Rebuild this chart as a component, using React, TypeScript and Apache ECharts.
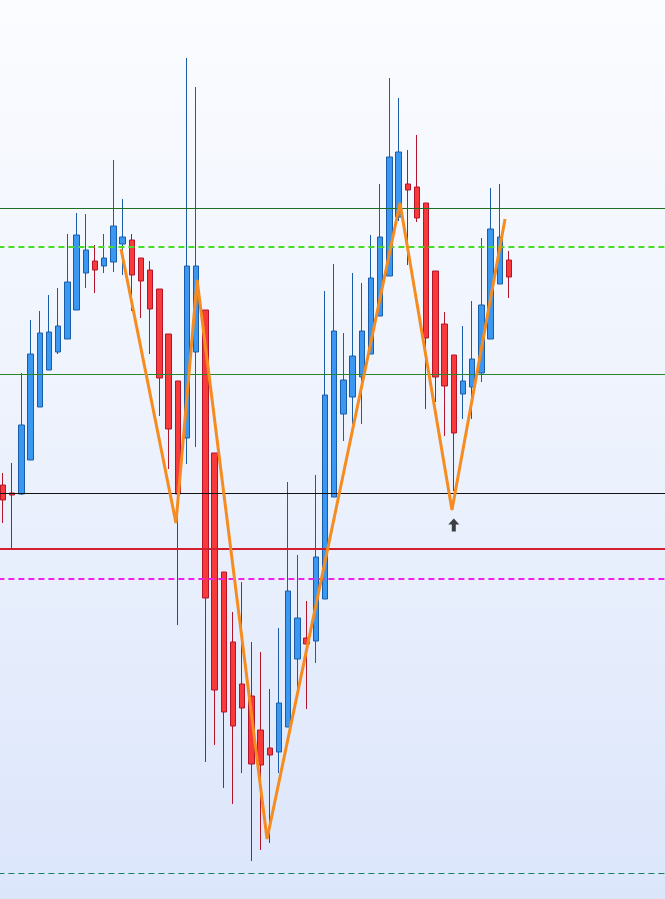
import React, { useEffect, useRef } from "react";
import * as echarts from "echarts";

// Candle values (price units), one entry per session
const opens = [
  1.09575, 1.09535, 1.0953, 1.097, 1.09965, 1.1015, 1.1024, 1.10305, 1.1045, 1.10635,
  1.10695, 1.1067, 1.1069, 1.1078, 1.108, 1.1071, 1.1065, 1.10555, 1.1033, 1.10095,
  1.0981, 1.1024, 1.1045, 1.09735, 1.0914, 1.0879, 1.0858, 1.0852, 1.0835, 1.0826,
  1.0824, 1.08365, 1.08705, 1.0881, 1.08795, 1.09005, 1.09515, 1.0993, 1.10015, 1.10115,
  1.1023, 1.1042, 1.1062, 1.10915, 1.1108, 1.11065, 1.10985, 1.10645, 1.1038, 1.10225,
  1.1003, 1.10065, 1.10135, 1.10305, 1.1058, 1.107,
];
const closes = [
  1.095, 1.09525, 1.09875, 1.1023, 1.10335, 1.1034, 1.1037, 1.1059, 1.10825, 1.1075,
  1.1065, 1.1071, 1.1087, 1.10815, 1.10625, 1.10595, 1.10455, 1.1011, 1.09855, 1.0953,
  1.1067, 1.1067, 1.0901, 1.0855, 1.0844, 1.0837, 1.0846, 1.0818, 1.08175, 1.08225,
  1.08485, 1.09045, 1.0891, 1.0878, 1.09215, 1.10025, 1.10345, 1.101, 1.1022, 1.10345,
  1.1061, 1.10815, 1.11215, 1.1124, 1.1105, 1.1091, 1.1031, 1.10115, 1.1007, 1.09835,
  1.10095, 1.10205, 1.10475, 1.10855, 1.10815, 1.10615,
];
const lows = [
  1.09385, 1.0926, 1.09525, 1.097, 1.09965, 1.1015, 1.1023, 1.10305, 1.1045, 1.1056,
  1.10535, 1.10635, 1.1064, 1.10625, 1.10445, 1.1041, 1.1023, 1.0992, 1.09655, 1.08875,
  1.0968, 1.09765, 1.0819, 1.08275, 1.0806, 1.0798, 1.08135, 1.07695, 1.0775, 1.07785,
  1.08135, 1.08365, 1.08535, 1.08455, 1.08685, 1.09005, 1.09515, 1.09795, 1.0988, 1.0988,
  1.1023, 1.1042, 1.1062, 1.10895, 1.10675, 1.1089, 1.09955, 1.0999, 1.0982, 1.09545,
  1.09905, 1.09905, 1.1009, 1.10305, 1.1058, 1.1051,
];
const highs = [
  1.09635, 1.09685, 1.10135, 1.104, 1.10445, 1.10525, 1.1056, 1.1083, 1.10935, 1.1093,
  1.10775, 1.1083, 1.112, 1.11005, 1.1083, 1.1071, 1.10695, 1.10555, 1.1033, 1.10095,
  1.1171, 1.11565, 1.1045, 1.09735, 1.0914, 1.0894, 1.0909, 1.0879, 1.0874, 1.08555,
  1.0886, 1.0959, 1.09225, 1.08995, 1.09625, 1.10545, 1.1068, 1.10335, 1.10635, 1.10585,
  1.10825, 1.1108, 1.1161, 1.1151, 1.1125, 1.11325, 1.10985, 1.10645, 1.1044, 1.10225,
  1.1037, 1.10495, 1.1081, 1.1106, 1.1108, 1.10745,
];

// Total session slots on the time axis (the rest stay empty on the right)
const slotCount = 73;

// Horizontal levels
const resistanceTop = 1.1096;
const dashedGreenLevel = 1.10768;
const resistanceMid = 1.1013;
const neckline = 1.09533;
const redLevel = 1.09254;
const magentaLevel = 1.09107;
const bottomLevel = 1.07635;

// Zigzag swing points: [session position, price]
const zigzagPos = [12.83, 18.8, 21.1, 28.7, 43.15, 48.8, 54.57];
const zigzagPrice = [1.10755, 1.09385, 1.106, 1.07805, 1.10985, 1.0945, 1.10905];

// Signal arrow
const arrowPos = 49;
const arrowPrice = 1.09375;

const priceMin = 1.07505;
const priceMax = 1.12;

export default function App() {
  const ref = useRef<HTMLDivElement>(null);

  useEffect(() => {
    document.body.style.margin = "0";
    if (!ref.current) return;
    const chart = echarts.init(ref.current, null, { renderer: "svg" });

    const categories = Array.from({ length: slotCount }, (_, i) => String(i + 1));
    const candleData = opens.map((o, i) => [o, closes[i], lows[i], highs[i]]);
    const zigzagData = zigzagPos.map((p, i) => [p, zigzagPrice[i]]);

    const hLine = (y: number, color: string, width: number, type: any) => ({
      yAxis: y,
      lineStyle: { color, width, type },
    });

    chart.setOption({
      animation: false,
      backgroundColor: "transparent",
      grid: {
        left: -1.6,
        top: 0,
        width: 671.6,
        height: 899,
        containLabel: false,
        outerBoundsMode: "none",
      },
      xAxis: [
        {
          type: "category",
          data: categories,
          boundaryGap: true,
          show: false,
        },
        {
          type: "value",
          min: -0.5,
          max: slotCount - 0.5,
          show: false,
        },
      ],
      yAxis: {
        type: "value",
        min: priceMin,
        max: priceMax,
        show: false,
        splitLine: { show: false },
        scale: true,
      },
      series: [
        {
          type: "candlestick",
          xAxisIndex: 0,
          data: candleData,
          barWidth: 6,
          itemStyle: {
            color: "#3a98f2",
            color0: "#f83a3a",
            borderColor: "#1a5ca8",
            borderColor0: "#b3152b",
            borderWidth: 1,
          },
          markLine: {
            silent: true,
            precision: 6,
            symbol: ["none", "none"],
            label: { show: false },
            emphasis: { disabled: true },
            data: [
              hLine(resistanceTop, "#1f6e22", 1, "solid"),
              hLine(dashedGreenLevel, "#47dd22", 2, [6, 4]),
              hLine(resistanceMid, "#2a852a", 1, "solid"),
              hLine(neckline, "#111111", 1, "solid"),
              hLine(redLevel, "#d21f2f", 2, "solid"),
              hLine(magentaLevel, "#ee22ee", 2, [6, 4]),
              hLine(bottomLevel, "#16805e", 1, [6, 4]),
            ],
          },
        },
        {
          type: "line",
          xAxisIndex: 1,
          data: zigzagData,
          symbol: "none",
          lineStyle: { color: "#f68c1f", width: 3 },
          z: 5,
          silent: true,
        },
        {
          type: "scatter",
          xAxisIndex: 1,
          data: [[arrowPos, arrowPrice]],
          symbol: "path://M5.5,0 L11,6 L7.5,6 L7.5,13 L3.5,13 L3.5,6 L0,6 Z",
          symbolSize: [11, 13],
          itemStyle: { color: "#111111" },
          z: 6,
          silent: true,
        },
      ],
    });

    return () => chart.dispose();
  }, []);

  return (
    <div
      ref={ref}
      style={{
        width: 665,
        height: 899,
        overflow: "hidden",
        background: "linear-gradient(to bottom, #fbfcff 0%, #eef3fd 45%, #dce6fb 100%)",
      }}
    />
  );
}
